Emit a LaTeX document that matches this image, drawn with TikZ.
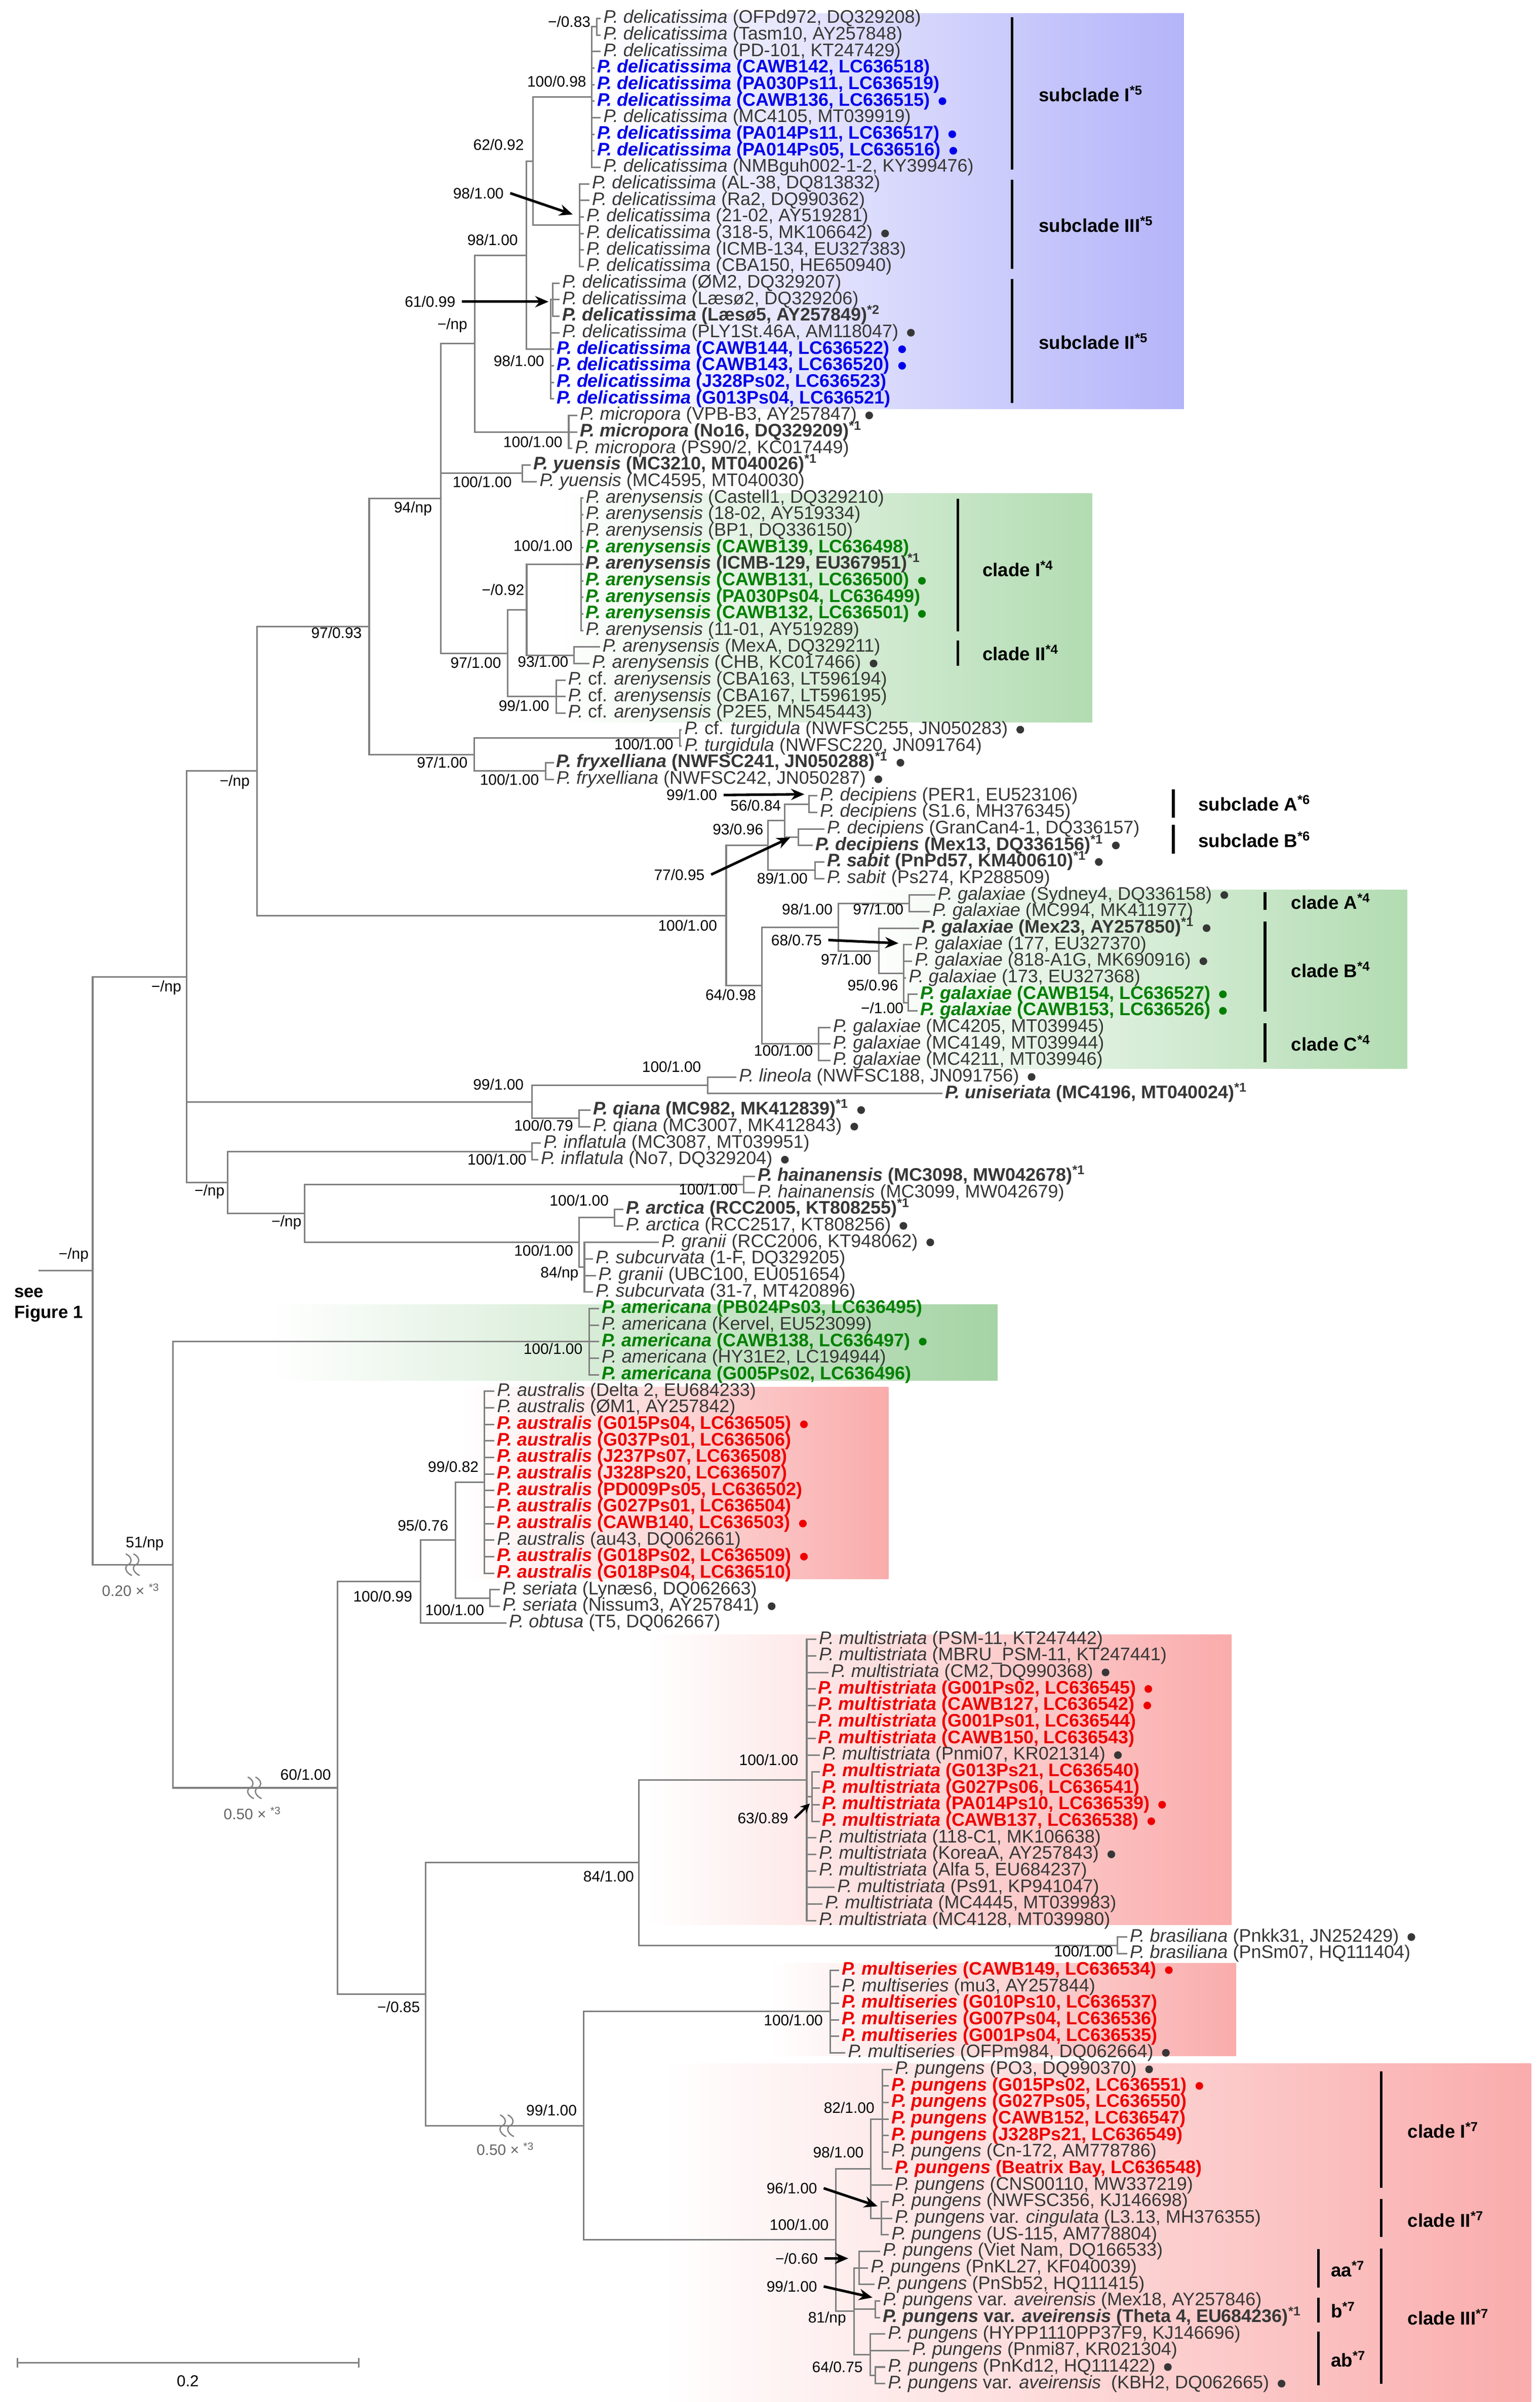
\documentclass[tikz,border=0pt]{standalone}
\usepackage{fontspec}
\setmainfont{Liberation Sans}
\usetikzlibrary{arrows.meta,calc}
\definecolor{tgray}{RGB}{55,55,55}
\definecolor{brgray}{RGB}{128,128,128}
\definecolor{notegray}{RGB}{100,100,100}
\definecolor{tblue}{RGB}{0,0,235}
\definecolor{tgreen}{RGB}{0,128,0}
\definecolor{tred}{RGB}{238,0,0}
\definecolor{boxblue}{RGB}{180,180,250}
\definecolor{boxgreen}{RGB}{178,220,178}
\definecolor{boxgreenB}{RGB}{165,212,165}
\definecolor{boxred}{RGB}{250,172,172}
\newcommand\leaffont{\fontsize{10.1}{12}\selectfont}
\newcommand\suppfont{\fontsize{8.4}{10}\selectfont}
\newcommand\cladefont{\fontsize{10.3}{12}\selectfont\bfseries}
\newcommand\Pdel{\textit{P. delicatissima}}
\newcommand\Pmic{\textit{P. micropora}}
\newcommand\Pyue{\textit{P. yuensis}}
\newcommand\Pare{\textit{P. arenysensis}}
\newcommand\Pcfa{\textit{P.} cf. \textit{arenysensis}}
\newcommand\Pdec{\textit{P. decipiens}}
\newcommand\Psab{\textit{P. sabit}}
\newcommand\Pgal{\textit{P. galaxiae}}
\newcommand\Pmst{\textit{P. multistriata}}
\newcommand\Paus{\textit{P. australis}}
\newcommand\Pame{\textit{P. americana}}
\newcommand\Pmse{\textit{P. multiseries}}
\newcommand\Ppun{\textit{P. pungens}}
\newcommand\Pave{\textit{P. pungens} var. \textit{aveirensis}}
\newcommand\Sup[1]{\textsuperscript{*#1}}
\newcommand\Lf[4]{\node[#3] (L#1) at ({#2-1.5},{12+(#1-1)*10.745}) {#4};}
\newcommand\Dt[2]{\fill[#2] ([xshift=1.9mm]L#1.east) circle (0.75mm);}
\newcommand\BrL[2]{\foreach \i in {#2} {\draw[br] (#1) |- (L\i.west);}}
\newcommand\BrN[2]{\foreach \c in {#2} {\draw[br] (#1) |- (\c);}}
\newcommand\Brk[2]{%
  \draw[brk] ({#1-3.5},{#2-7}) .. controls ({#1+1},{#2-5}) and ({#1+0.5},{#2-1}) .. ({#1-2},{#2}) .. controls ({#1-4.5},{#2+1}) and ({#1-4},{#2+5}) .. ({#1+0.5},{#2+7});
  \draw[brk] ({#1+1.5},{#2-7}) .. controls ({#1+6},{#2-5}) and ({#1+5.5},{#2-1}) .. ({#1+3},{#2}) .. controls ({#1+0.5},{#2+1}) and ({#1+1},{#2+5}) .. ({#1+5.5},{#2+7});}
\begin{document}
\begin{tikzpicture}[x=0.3mm,y=-0.3mm,
  lf/.style={anchor=west,inner xsep=0.45mm,inner ysep=0pt,text height=0.75em,text depth=0.22em,font=\leaffont,text=tgray},
  lfb/.style={lf,font=\leaffont\bfseries},
  lfbl/.style={lfb,text=tblue},
  lfg/.style={lfb,text=tgreen},
  lfr/.style={lfb,text=tred},
  sup/.style={anchor=east,inner sep=0pt,font=\suppfont,text=black},
  asup/.style={anchor=east,inner ysep=0pt,inner xsep=1.2mm,font=\suppfont,text=black},
  br/.style={draw=brgray,line width=0.3mm},
  arr/.style={draw=black,line width=0.5mm,-{Stealth[length=2.6mm,width=2.2mm]}},
  cbar/.style={draw=black,line width=0.55mm},
  clab/.style={anchor=west,inner sep=0pt,font=\cladefont,text=black},
  brk/.style={draw=brgray,line width=0.25mm},
  gnote/.style={inner sep=0pt,font=\suppfont,text=notegray},
]
\useasboundingbox (0,0) rectangle (1000,1560.5);
% ---------- coloured backgrounds
\shade[left color=white,right color=boxblue] (385,8.7) rectangle (769,265.5);
\shade[left color=white,right color=boxgreen] (361,320.5) rectangle (709.3,469.2);
\shade[left color=white,right color=boxgreen] (560,578.2) rectangle (914,694.1);
\shade[left color=white,right color=boxgreenB] (175,847.5) rectangle (648,896.9);
\shade[left color=white,right color=boxred] (300,901) rectangle (577.1,1025.8);
\shade[left color=white,right color=boxred] (420,1062) rectangle (800,1250.6);
\shade[left color=white,right color=boxred] (500,1275.6) rectangle (803,1335.8);
\shade[left color=white,right color=boxred] (430,1340.6) rectangle (994.5,1560.5);
% ---------- leaves
\Lf{1}{391.7}{lf}{\Pdel{} (OFPd972, DQ329208)}
\Lf{2}{391.7}{lf}{\Pdel{} (Tasm10, AY257848)}
\Lf{3}{391.7}{lf}{\Pdel{} (PD-101, KT247429)}
\Lf{4}{387.7}{lfbl}{\Pdel{} (CAWB142, LC636518)}
\Lf{5}{387.7}{lfbl}{\Pdel{} (PA030Ps11, LC636519)}
\Lf{6}{387.7}{lfbl}{\Pdel{} (CAWB136, LC636515)}
\Lf{7}{391.7}{lf}{\Pdel{} (MC4105, MT039919)}
\Lf{8}{387.7}{lfbl}{\Pdel{} (PA014Ps11, LC636517)}
\Lf{9}{387.7}{lfbl}{\Pdel{} (PA014Ps05, LC636516)}
\Lf{10}{391.7}{lf}{\Pdel{} (NMBguh002-1-2, KY399476)}
\Lf{11}{384.3}{lf}{\Pdel{} (AL-38, DQ813832)}
\Lf{12}{384.3}{lf}{\Pdel{} (Ra2, DQ990362)}
\Lf{13}{380.7}{lf}{\Pdel{} (21-02, AY519281)}
\Lf{14}{380.7}{lf}{\Pdel{} (318-5, MK106642)}
\Lf{15}{380.7}{lf}{\Pdel{} (ICMB-134, EU327383)}
\Lf{16}{380.7}{lf}{\Pdel{} (CBA150, HE650940)}
\Lf{17}{365}{lf}{\Pdel{} (ØM2, DQ329207)}
\Lf{18}{365}{lf}{\Pdel{} (Læsø2, DQ329206)}
\Lf{19}{365}{lfb}{\Pdel{} (Læsø5, AY257849)\Sup{2}}
\Lf{20}{365}{lf}{\Pdel{} (PLY1St.46A, AM118047)}
\Lf{21}{361.5}{lfbl}{\Pdel{} (CAWB144, LC636522)}
\Lf{22}{361.5}{lfbl}{\Pdel{} (CAWB143, LC636520)}
\Lf{23}{361.5}{lfbl}{\Pdel{} (J328Ps02, LC636523)}
\Lf{24}{361.5}{lfbl}{\Pdel{} (G013Ps04, LC636521)}
\Lf{25}{376.5}{lf}{\Pmic{} (VPB-B3, AY257847)}
\Lf{26}{376.5}{lfb}{\Pmic{} (No16, DQ329209)\Sup{1}}
\Lf{27}{373.3}{lf}{\Pmic{} (PS90/2, KC017449)}
\Lf{28}{346.2}{lfb}{\Pyue{} (MC3210, MT040026)\Sup{1}}
\Lf{29}{350.3}{lf}{\Pyue{} (MC4595, MT040030)}
\Lf{30}{380.3}{lf}{\Pare{} (Castell1, DQ329210)}
\Lf{31}{380.3}{lf}{\Pare{} (18-02, AY519334)}
\Lf{32}{380.3}{lf}{\Pare{} (BP1, DQ336150)}
\Lf{33}{380.3}{lfg}{\Pare{} (CAWB139, LC636498)}
\Lf{34}{380.3}{lfb}{\Pare{} (ICMB-129, EU367951)\Sup{1}}
\Lf{35}{380.3}{lfg}{\Pare{} (CAWB131, LC636500)}
\Lf{36}{380.3}{lfg}{\Pare{} (PA030Ps04, LC636499)}
\Lf{37}{380.3}{lfg}{\Pare{} (CAWB132, LC636501)}
\Lf{38}{380.3}{lf}{\Pare{} (11-01, AY519289)}
\Lf{39}{391.2}{lf}{\Pare{} (MexA, DQ329211)}
\Lf{40}{384.4}{lf}{\Pare{} (CHB, KC017466)}
\Lf{41}{368.8}{lf}{\Pcfa{} (CBA163, LT596194)}
\Lf{42}{368.8}{lf}{\Pcfa{} (CBA167, LT596195)}
\Lf{43}{368.8}{lf}{\Pcfa{} (P2E5, MN545443)}
\Lf{44}{444.4}{lf}{\textit{P.} cf. \textit{turgidula} (NWFSC255, JN050283)}
\Lf{45}{444.4}{lf}{\textit{P. turgidula} (NWFSC220, JN091764)}
\Lf{46}{361.2}{lfb}{\textit{P. fryxelliana} (NWFSC241, JN050288)\Sup{1}}
\Lf{47}{361.2}{lf}{\textit{P. fryxelliana} (NWFSC242, JN050287)}
\Lf{48}{532.4}{lf}{\Pdec{} (PER1, EU523106)}
\Lf{49}{532.4}{lf}{\Pdec{} (S1.6, MH376345)}
\Lf{50}{537}{lf}{\Pdec{} (GranCan4-1, DQ336157)}
\Lf{51}{529.4}{lfb}{\Pdec{} (Mex13, DQ336156)\Sup{1}}
\Lf{52}{537}{lfb}{\Psab{} (PnPd57, KM400610)\Sup{1}}
\Lf{53}{537}{lf}{\Psab{} (Ps274, KP288509)}
\Lf{54}{608.9}{lf}{\Pgal{} (Sydney4, DQ336158)}
\Lf{55}{605.5}{lf}{\Pgal{} (MC994, MK411977)}
\Lf{56}{598.6}{lfb}{\Pgal{} (Mex23, AY257850)\Sup{1}}
\Lf{57}{594}{lf}{\Pgal{} (177, EU327370)}
\Lf{58}{594}{lf}{\Pgal{} (818-A1G, MK690916)}
\Lf{59}{590.1}{lf}{\Pgal{} (173, EU327368)}
\Lf{60}{597.5}{lfg}{\Pgal{} (CAWB154, LC636527)}
\Lf{61}{597.5}{lfg}{\Pgal{} (CAWB153, LC636526)}
\Lf{62}{540.9}{lf}{\Pgal{} (MC4205, MT039945)}
\Lf{63}{540.9}{lf}{\Pgal{} (MC4149, MT039944)}
\Lf{64}{540.9}{lf}{\Pgal{} (MC4211, MT039946)}
\Lf{65}{479.8}{lf}{\textit{P. lineola} (NWFSC188, JN091756)}
\Lf{66}{613.6}{lfb}{\textit{P. uniseriata} (MC4196, MT040024)\Sup{1}}
\Lf{67}{385}{lfb}{\textit{P. qiana} (MC982, MK412839)\Sup{1}}
\Lf{68}{385}{lf}{\textit{P. qiana} (MC3007, MK412843)}
\Lf{69}{352.9}{lf}{\textit{P. inflatula} (MC3087, MT039951)}
\Lf{70}{351.1}{lf}{\textit{P. inflatula} (No7, DQ329204)}
\Lf{71}{492}{lfb}{\textit{P. hainanensis} (MC3098, MW042678)\Sup{1}}
\Lf{72}{492}{lf}{\textit{P. hainanensis} (MC3099, MW042679)}
\Lf{73}{406.4}{lfb}{\textit{P. arctica} (RCC2005, KT808255)\Sup{1}}
\Lf{74}{406.4}{lf}{\textit{P. arctica} (RCC2517, KT808256)}
\Lf{75}{429.5}{lf}{\textit{P. granii} (RCC2006, KT948062)}
\Lf{76}{386.7}{lf}{\textit{P. subcurvata} (1-F, DQ329205)}
\Lf{77}{388.5}{lf}{\textit{P. granii} (UBC100, EU051654)}
\Lf{78}{386.7}{lf}{\textit{P. subcurvata} (31-7, MT420896)}
\Lf{79}{390.7}{lfg}{\Pame{} (PB024Ps03, LC636495)}
\Lf{80}{390.7}{lf}{\Pame{} (Kervel, EU523099)}
\Lf{81}{390.7}{lfg}{\Pame{} (CAWB138, LC636497)}
\Lf{82}{390.7}{lf}{\Pame{} (HY31E2, LC194944)}
\Lf{83}{390.7}{lfg}{\Pame{} (G005Ps02, LC636496)}
\Lf{84}{322.7}{lf}{\Paus{} (Delta 2, EU684233)}
\Lf{85}{322.7}{lf}{\Paus{} (ØM1, AY257842)}
\Lf{86}{322.7}{lfr}{\Paus{} (G015Ps04, LC636505)}
\Lf{87}{322.7}{lfr}{\Paus{} (G037Ps01, LC636506)}
\Lf{88}{322.7}{lfr}{\Paus{} (J237Ps07, LC636508)}
\Lf{89}{322.7}{lfr}{\Paus{} (J328Ps20, LC636507)}
\Lf{90}{322.7}{lfr}{\Paus{} (PD009Ps05, LC636502)}
\Lf{91}{322.7}{lfr}{\Paus{} (G027Ps01, LC636504)}
\Lf{92}{322.7}{lfr}{\Paus{} (CAWB140, LC636503)}
\Lf{93}{322.7}{lf}{\Paus{} (au43, DQ062661)}
\Lf{94}{322.7}{lfr}{\Paus{} (G018Ps02, LC636509)}
\Lf{95}{322.7}{lfr}{\Paus{} (G018Ps04, LC636510)}
\Lf{96}{326.3}{lf}{\textit{P. seriata} (Lynæs6, DQ062663)}
\Lf{97}{326.3}{lf}{\textit{P. seriata} (Nissum3, AY257841)}
\Lf{98}{330.4}{lf}{\textit{P. obtusa} (T5, DQ062667)}
\Lf{99}{531.8}{lf}{\Pmst{} (PSM-11, KT247442)}
\Lf{100}{531.8}{lf}{\Pmst{} (MBRU\_PSM-11, KT247441)}
\Lf{101}{539.7}{lf}{\Pmst{} (CM2, DQ990368)}
\Lf{102}{531.3}{lfr}{\Pmst{} (G001Ps02, LC636545)}
\Lf{103}{531.3}{lfr}{\Pmst{} (CAWB127, LC636542)}
\Lf{104}{531.3}{lfr}{\Pmst{} (G001Ps01, LC636544)}
\Lf{105}{531.3}{lfr}{\Pmst{} (CAWB150, LC636543)}
\Lf{106}{533.9}{lf}{\Pmst{} (Pnmi07, KR021314)}
\Lf{107}{533.9}{lfr}{\Pmst{} (G013Ps21, LC636540)}
\Lf{108}{533.9}{lfr}{\Pmst{} (G027Ps06, LC636541)}
\Lf{109}{533.9}{lfr}{\Pmst{} (PA014Ps10, LC636539)}
\Lf{110}{533.9}{lfr}{\Pmst{} (CAWB137, LC636538)}
\Lf{111}{531.8}{lf}{\Pmst{} (118-C1, MK106638)}
\Lf{112}{531.8}{lf}{\Pmst{} (KoreaA, AY257843)}
\Lf{113}{531.8}{lf}{\Pmst{} (Alfa 5, EU684237)}
\Lf{114}{543.6}{lf}{\Pmst{} (Ps91, KP941047)}
\Lf{115}{535.7}{lf}{\Pmst{} (MC4445, MT039983)}
\Lf{116}{531.8}{lf}{\Pmst{} (MC4128, MT039980)}
\Lf{117}{733.7}{lf}{\textit{P. brasiliana} (Pnkk31, JN252429)}
\Lf{118}{733.7}{lf}{\textit{P. brasiliana} (PnSm07, HQ111404)}
\Lf{119}{546.6}{lfr}{\Pmse{} (CAWB149, LC636534)}
\Lf{120}{546.6}{lf}{\Pmse{} (mu3, AY257844)}
\Lf{121}{546.6}{lfr}{\Pmse{} (G010Ps10, LC636537)}
\Lf{122}{546.6}{lfr}{\Pmse{} (G007Ps04, LC636536)}
\Lf{123}{546.6}{lfr}{\Pmse{} (G001Ps04, LC636535)}
\Lf{124}{550.6}{lf}{\Pmse{} (OFPm984, DQ062664)}
\Lf{125}{581.1}{lf}{\Ppun{} (PO3, DQ990370)}
\Lf{126}{578.9}{lfr}{\Ppun{} (G015Ps02, LC636551)}
\Lf{127}{578.9}{lfr}{\Ppun{} (G027Ps05, LC636550)}
\Lf{128}{578.9}{lfr}{\Ppun{} (CAWB152, LC636547)}
\Lf{129}{578.9}{lfr}{\Ppun{} (J328Ps21, LC636549)}
\Lf{130}{578.9}{lf}{\Ppun{} (Cn-172, AM778786)}
\Lf{131}{581.1}{lfr}{\Ppun{} (Beatrix Bay, LC636548)}
\Lf{132}{581.1}{lf}{\Ppun{} (CNS00110, MW337219)}
\Lf{133}{578.9}{lf}{\Ppun{} (NWFSC356, KJ146698)}
\Lf{134}{581.1}{lf}{\Ppun{} var. \textit{cingulata} (L3.13, MH376355)}
\Lf{135}{578.9}{lf}{\Ppun{} (US-115, AM778804)}
\Lf{136}{573.3}{lf}{\Ppun{} (Viet Nam, DQ166533)}
\Lf{137}{565.4}{lf}{\Ppun{} (PnKL27, KF040039)}
\Lf{138}{569.6}{lf}{\Ppun{} (PnSb52, HQ111415)}
\Lf{139}{573.3}{lf}{\Pave{} (Mex18, AY257846)}
\Lf{140}{573.3}{lfb}{\Pave{} (Theta 4, EU684236)\Sup{1}}
\Lf{141}{576.6}{lf}{\Ppun{} (HYPP1110PP37F9, KJ146696)}
\Lf{142}{592.4}{lf}{\Ppun{} (Pnmi87, KR021304)}
\Lf{143}{576.6}{lf}{\Ppun{} (PnKd12, HQ111422)}
\Lf{144}{576.6}{lf}{\Pave{}\ \ (KBH2, DQ062665)}
% ---------- dots
\foreach \i in {6,8,9,21,22} {\Dt{\i}{tblue}}
\foreach \i in {35,37,60,61,81} {\Dt{\i}{tgreen}}
\foreach \i in {86,92,94,102,103,109,110,119,126} {\Dt{\i}{tred}}
\foreach \i in {14,20,25,40,44,46,47,51,52,54,56,58,65,67,68,70,74,75,97,101,106,112,117,124,125,143,144} {\Dt{\i}{tgray}}
% ---------- internal nodes
\coordinate (c12) at (387.7,17.37);
\coordinate (sI) at (384.3,63.04);
\coordinate (sIII) at (376.5,146.32);
\coordinate (sIJ) at (346.1,104.68);
\coordinate (c17) at (359.0,194.67);
\coordinate (sII) at (357.6,226.91);
\coordinate (nA) at (341.9,165.80);
\coordinate (nMic) at (369.4,280.63);
\coordinate (nB) at (308.3,223.21);
\coordinate (nYue) at (339.4,307.49);
\coordinate (cAI) at (377.5,366.59);
\coordinate (cAII) at (372.7,425.69);
\coordinate (cAJ) at (342.1,396.14);
\coordinate (cCf) at (361.2,452.55);
\coordinate (nAre) at (329.8,424.35);
\coordinate (nC) at (286.2,323.78);
\coordinate (nTur) at (441.6,479.41);
\coordinate (nFry) at (354.4,500.90);
\coordinate (nTF) at (308.0,490.16);
\coordinate (nF) at (239.8,406.97);
\coordinate (sA) at (525.5,522.39);
\coordinate (sB) at (518.6,543.88);
\coordinate (n56) at (509.8,533.14);
\coordinate (nSab) at (529.4,565.37);
\coordinate (n93) at (498.7,549.26);
\coordinate (gA) at (590.5,586.86);
\coordinate (gZ) at (590.0,651.33);
\coordinate (gY) at (587.1,632.53);
\coordinate (gX) at (571.0,617.76);
\coordinate (g98) at (544.4,602.31);
\coordinate (gC) at (531.7,678.19);
\coordinate (g64) at (494.8,640.25);
\coordinate (nDG) at (471.7,594.76);
\coordinate (nE) at (167.0,500.87);
\coordinate (nLin) at (459.8,705.06);
\coordinate (nQia) at (376.0,726.55);
\coordinate (nLQ) at (345.7,715.80);
\coordinate (nInf) at (345.7,748.04);
\coordinate (nHai) at (483.0,769.53);
\coordinate (nArc) at (399.2,791.02);
\coordinate (nGra) at (379.6,823.25);
\coordinate (nAG) at (376.0,807.14);
\coordinate (nHAG) at (197.7,788.34);
\coordinate (nIHAG) at (147.8,768.19);
\coordinate (nUp) at (121.2,634.53);
\coordinate (nAm) at (382.7,871.60);
\coordinate (nAus) at (314.7,962.94);
\coordinate (nSer) at (318.3,1038.15);
\coordinate (nAS) at (295.9,1000.54);
\coordinate (nASO) at (273.2,1027.41);
\coordinate (nMulB) at (527.4,1167.09);
\coordinate (nMul) at (524.0,1156.35);
\coordinate (nBra) at (725.8,1263.80);
\coordinate (nMB) at (415.0,1210.08);
\coordinate (nMs) at (539.3,1306.78);
\coordinate (pI) at (573.3,1376.62);
\coordinate (p96) at (572.5,1441.09);
\coordinate (p98) at (565.7,1408.86);
\coordinate (pAA) at (558.1,1473.32);
\coordinate (pB) at (568.7,1500.19);
\coordinate (pABb) at (568.5,1543.17);
\coordinate (pAB) at (565.4,1529.74);
\coordinate (p81) at (554.9,1501.53);
\coordinate (p100) at (543.0,1455.20);
\coordinate (nMP) at (379.2,1380.99);
\coordinate (nM) at (276.6,1295.54);
\coordinate (n60) at (219.2,1161.48);
\coordinate (nLow) at (112.2,1016.54);
\coordinate (N0) at (60.2,825.54);
\coordinate (root) at (24.9,825.54);
% ---------- branches
\BrL{c12}{1,2}
\BrN{sI}{c12} \BrL{sI}{3,...,10}
\BrL{sIII}{11,...,16}
\BrN{sIJ}{sI,sIII}
\BrL{c17}{17,18,19}
\BrN{sII}{c17} \BrL{sII}{20,...,24}
\BrN{nA}{sIJ,sII}
\BrL{nMic}{25,26,27}
\BrN{nB}{nA,nMic}
\BrL{nYue}{28,29}
\BrL{cAI}{30,...,38}
\BrL{cAII}{39,40}
\BrN{cAJ}{cAI,cAII}
\BrL{cCf}{41,42,43}
\BrN{nAre}{cAJ,cCf}
\BrN{nC}{nB,nYue,nAre}
\BrL{nTur}{44,45}
\BrL{nFry}{46,47}
\BrN{nTF}{nTur,nFry}
\BrN{nF}{nC,nTF}
\BrL{sA}{48,49}
\BrL{sB}{50,51}
\BrN{n56}{sA,sB}
\BrL{nSab}{52,53}
\BrN{n93}{n56,nSab}
\BrL{gA}{54,55}
\BrL{gZ}{60,61}
\BrL{gY}{57,58,59} \BrN{gY}{gZ}
\BrL{gX}{56} \BrN{gX}{gY}
\BrN{g98}{gA,gX}
\BrL{gC}{62,63,64}
\BrN{g64}{g98,gC}
\BrN{nDG}{n93,g64}
\BrN{nE}{nF,nDG}
\BrL{nLin}{65,66}
\BrL{nQia}{67,68}
\BrN{nLQ}{nLin,nQia}
\BrL{nInf}{69,70}
\BrL{nHai}{71,72}
\BrL{nArc}{73,74}
\BrL{nGra}{75,76,77,78}
\BrN{nAG}{nArc,nGra}
\BrN{nHAG}{nHai,nAG}
\BrN{nIHAG}{nInf,nHAG}
\BrN{nUp}{nE,nLQ,nIHAG}
\BrL{nAm}{79,...,83}
\BrL{nAus}{84,...,95}
\BrL{nSer}{96,97}
\BrN{nAS}{nAus,nSer}
\BrN{nASO}{nAS} \BrL{nASO}{98}
\BrL{nMulB}{107,108,109,110}
\BrL{nMul}{99,100,101,102,103,104,105,106,111,112,113,114,115,116}
\BrN{nMul}{nMulB}
\BrL{nBra}{117,118}
\BrN{nMB}{nMul,nBra}
\BrL{nMs}{119,...,124}
\BrL{pI}{125,...,131}
\BrL{p96}{133,134,135}
\BrN{p98}{pI,p96} \BrL{p98}{132}
\BrL{pAA}{136,137,138}
\BrL{pB}{139,140}
\BrL{pABb}{143,144}
\BrL{pAB}{141,142} \BrN{pAB}{pABb}
\BrN{p81}{pAA,pB,pAB}
\BrN{p100}{p98,p81}
\BrN{nMP}{nMs,p100}
\BrN{nM}{nMB,nMP}
\BrN{n60}{nASO,nM}
\BrN{nLow}{nAm,n60}
\BrN{N0}{nUp,nLow}
\draw[br] (root) -- (N0);
% ---------- break marks
\Brk{85.2}{1016.54}
\Brk{164.4}{1161.48}
\Brk{328.3}{1380.99}
\node[gnote] (g1) at (85,1033) {0.20 × \textsuperscript{*3}};
\node[gnote] (g2) at (164,1178) {0.50 × \textsuperscript{*3}};
\node[gnote] (g3) at (328.3,1396) {0.50 × \textsuperscript{*3}};
% ---------- support values
\node[sup] (s1) at (383.8,14) {−/0.83};
\node[sup] (s2) at (381,53) {100/0.98};
\node[sup] (s3) at (340.5,94) {62/0.92};
\node[sup] (s4) at (336.6,156) {98/1.00};
\node[sup] (s5) at (303.8,211.5) {−/np};
\node[sup] (s6) at (353.7,234.5) {98/1.00};
\node[sup] (s7) at (365.5,287) {100/1.00};
\node[sup] (s8) at (332.6,313.2) {100/1.00};
\node[sup] (s9) at (280.8,330.5) {94/np};
\node[sup] (s10) at (372.1,354.5) {100/1.00};
\node[sup] (s11) at (340.8,383.3) {−/0.92};
\node[sup] (s12) at (369.4,429.8) {93/1.00};
\node[sup] (s13) at (325.7,430.6) {97/1.00};
\node[sup] (s14) at (357,458.6) {99/1.00};
\node[sup] (s15) at (235.2,411.2) {97/0.93};
\node[sup] (s16) at (437.6,483.4) {100/1.00};
\node[sup] (s17) at (303.9,495.4) {97/1.00};
\node[sup] (s18) at (350.3,506.6) {100/1.00};
\node[sup] (s19) at (162.4,508) {−/np};
\node[sup] (s20) at (507.5,523.4) {56/0.84};
\node[sup] (s21) at (496,538.6) {93/0.96};
\node[sup] (s22) at (524.8,570.6) {89/1.00};
\node[sup] (s23) at (541,590.6) {98/1.00};
\node[sup] (s24) at (587.1,590.6) {97/1.00};
\node[sup] (s25) at (466,601.3) {100/1.00};
\node[sup] (s26) at (566.3,623.3) {97/1.00};
\node[sup] (s27) at (583.6,639.9) {95/0.96};
\node[sup] (s28) at (491.3,646.2) {64/0.98};
\node[sup] (s29) at (587.1,654.9) {−/1.00};
\node[sup] (s30) at (528.3,682.5) {100/1.00};
\node[sup] (s31) at (118,641.8) {−/np};
\node[sup] (s32) at (455.6,693.1) {100/1.00};
\node[sup] (s33) at (340.4,704.4) {99/1.00};
\node[sup] (s34) at (372.5,731.3) {100/0.79};
\node[sup] (s35) at (342.2,753.1) {100/1.00};
\node[sup] (s36) at (479.4,772.7) {100/1.00};
\node[sup] (s37) at (146,774.3) {−/np};
\node[sup] (s38) at (395.6,779.7) {100/1.00};
\node[sup] (s39) at (196,794.4) {−/np};
\node[sup] (s40) at (372.5,812.4) {100/1.00};
\node[sup] (s41) at (376,827.5) {84/np};
\node[sup] (s42) at (57.8,815.5) {−/np};
\node[sup] (s43) at (378.6,876.3) {100/1.00};
\node[sup] (s44) at (311.1,953) {99/0.82};
\node[sup] (s45) at (291.4,991) {95/0.76};
\node[sup] (s46) at (106.6,1003) {51/np};
\node[sup] (s47) at (268,1037) {100/0.99};
\node[sup] (s48) at (314.7,1046) {100/1.00};
\node[sup] (s49) at (518.7,1143.3) {100/1.00};
\node[sup] (s50) at (215.2,1153) {60/1.00};
\node[sup] (s51) at (412,1219) {84/1.00};
\node[sup] (s52) at (723.2,1267.8) {100/1.00};
\node[sup] (s53) at (273,1304) {−/0.85};
\node[sup] (s54) at (534.7,1312.3) {100/1.00};
\node[sup] (s55) at (568.2,1369.4) {82/1.00};
\node[sup] (s56) at (374.9,1371) {99/1.00};
\node[sup] (s57) at (561.2,1398.1) {98/1.00};
\node[sup] (s58) at (538.5,1445.2) {100/1.00};
\node[sup] (s59) at (549.8,1506.6) {81/np};
\node[sup] (s60) at (560.6,1537.6) {64/0.75};
% ---------- arrow labels and arrows
\node[asup] (a1) at (331.4,125.5) {98/1.00};
\node[asup] (a2) at (300,196) {61/0.99};
\node[asup] (a3) at (470,516.5) {99/1.00};
\node[asup] (a4) at (461.9,568.2) {77/0.95};
\node[asup] (a5) at (538,610.7) {68/0.75};
\node[asup] (a6) at (516.2,1181.2) {63/0.89};
\node[asup] (a7) at (535,1421.6) {96/1.00};
\node[asup] (a8) at (535.5,1467.2) {−/0.60};
\node[asup] (a9) at (535,1485.4) {99/1.00};
\coordinate (t1) at (372,139.3);
\coordinate (t2) at (356.3,196);
\coordinate (t3) at (522.5,516);
\coordinate (t4) at (513.3,544.1);
\coordinate (t5) at (583.6,612.8);
\coordinate (t6) at (526,1171.7);
\coordinate (t7) at (570,1433.3);
\coordinate (t8) at (551,1467.2);
\coordinate (t9) at (566.7,1492.6);
\foreach \k in {1,2,3,4,5,7,8,9} {\draw[arr] (a\k.east) -- (t\k);}
\draw[draw=black,line width=0.45mm,-{Stealth[length=1.8mm,width=1.8mm]}] (a6.east) -- (t6);
% ---------- clade bars and labels
\draw[cbar] (657.4,11.2) -- (657.4,110.1);
\draw[cbar] (657.4,116.9) -- (657.4,174.8);
\draw[cbar] (657.4,181.2) -- (657.4,261.7);
\node[clab] (k1) at (674.6,60.9) {subclade I\textsuperscript{*5}};
\node[clab] (k2) at (674.6,145.8) {subclade III\textsuperscript{*5}};
\node[clab] (k3) at (674.6,221.7) {subclade II\textsuperscript{*5}};
\draw[cbar] (622.2,324.1) -- (622.2,410.2);
\draw[cbar] (622.2,416.2) -- (622.2,432.7);
\node[clab] (k4) at (638,369.6) {clade I\textsuperscript{*4}};
\node[clab] (k5) at (638,424.2) {clade II\textsuperscript{*4}};
\draw[cbar] (762.2,512.8) -- (762.2,531.1);
\draw[cbar] (762.2,536) -- (762.2,554.5);
\node[clab] (k6) at (778.2,521.8) {subclade A\textsuperscript{*6}};
\node[clab] (k7) at (778.2,545.5) {subclade B\textsuperscript{*6}};
\draw[cbar] (821.6,579.6) -- (821.6,591);
\draw[cbar] (821.6,598.7) -- (821.6,657.3);
\draw[cbar] (821.6,664.7) -- (821.6,690);
\node[clab] (k8) at (838.5,585.6) {clade A\textsuperscript{*4}};
\node[clab] (k9) at (838.5,630) {clade B\textsuperscript{*4}};
\node[clab] (k10) at (838.5,677.8) {clade C\textsuperscript{*4}};
\draw[cbar] (897.2,1345.6) -- (897.2,1421.2);
\draw[cbar] (897.2,1428.6) -- (897.2,1453.2);
\draw[cbar] (897.2,1460.8) -- (897.2,1548.7);
\node[clab] (k11) at (914.1,1384) {clade I\textsuperscript{*7}};
\node[clab] (k12) at (914.1,1441.8) {clade II\textsuperscript{*7}};
\node[clab] (k13) at (914.1,1505.4) {clade III\textsuperscript{*7}};
\draw[cbar] (856.4,1461.2) -- (856.4,1486.3);
\draw[cbar] (856.4,1492.6) -- (856.4,1508.9);
\draw[cbar] (856.4,1514.8) -- (856.4,1549.5);
\node[clab] (k14) at (864.3,1474.2) {aa\textsuperscript{*7}};
\node[clab] (k15) at (864.3,1500.6) {b\textsuperscript{*7}};
\node[clab] (k16) at (864.3,1532.7) {ab\textsuperscript{*7}};
% ---------- root label and scale bar
\node[anchor=west,inner sep=0pt,font=\fontsize{9.8}{11}\selectfont\bfseries] (see1) at (9,840) {see};
\node[anchor=west,inner sep=0pt,font=\fontsize{9.8}{11}\selectfont\bfseries] (see2) at (9,853.5) {Figure 1};
\coordinate (sb1) at (11.5,1535);
\coordinate (sb2) at (233,1535);
\draw[br] (sb1) -- (sb2);
\draw[br] ([yshift=0.9mm]sb1) -- ([yshift=-0.9mm]sb1);
\draw[br] ([yshift=0.9mm]sb2) -- ([yshift=-0.9mm]sb2);
\node[inner sep=0pt,font=\fontsize{8.8}{10}\selectfont,text=black] (sbl) at (122,1547) {0.2};
\end{tikzpicture}
\end{document}
